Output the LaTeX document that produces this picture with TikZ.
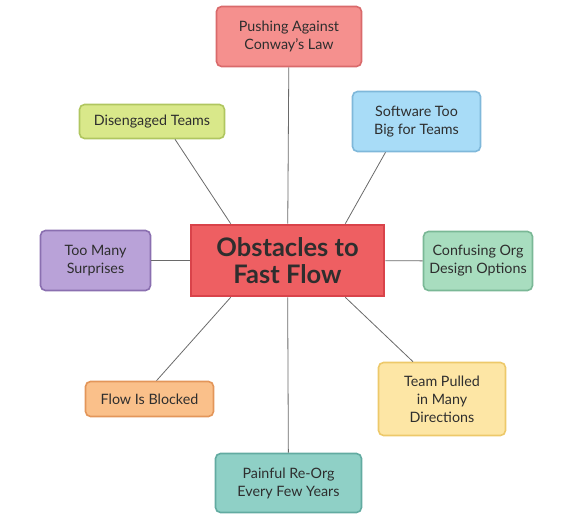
\documentclass[tikz,border=0pt]{standalone}
\usepackage{fontspec}
\setmainfont{Lato}

\definecolor{obstfill}{HTML}{EE5F62}
\definecolor{obstline}{HTML}{D9434A}
\definecolor{conwayfill}{HTML}{F5908E}
\definecolor{conwayline}{HTML}{D96A6B}
\definecolor{bigfill}{HTML}{A8DCF7}
\definecolor{bigline}{HTML}{7FB8DA}
\definecolor{disfill}{HTML}{D9E88A}
\definecolor{disline}{HTML}{B0C660}
\definecolor{surpfill}{HTML}{B9A2D8}
\definecolor{surpline}{HTML}{8A6FB0}
\definecolor{optfill}{HTML}{A8DDBF}
\definecolor{optline}{HTML}{7AB896}
\definecolor{blockfill}{HTML}{FAC08A}
\definecolor{blockline}{HTML}{E3965A}
\definecolor{pullfill}{HTML}{FDE6A5}
\definecolor{pullline}{HTML}{EDC96A}
\definecolor{reorgfill}{HTML}{8FD0C6}
\definecolor{reorgline}{HTML}{62ABA1}
\definecolor{textgray}{HTML}{2E2E2E}
\definecolor{linkgray}{HTML}{6A6A6A}

\begin{document}
\begin{tikzpicture}[
  x = 1pt, y = -1pt,
  obstacle/.style = {draw, line width = 1.6pt, rounded corners = 5pt,
    align = center, text = textgray, inner sep = 0pt,
    font = \fontsize{14.3}{18}\selectfont},
  headline/.style = {draw = obstline, fill = obstfill, line width = 2.6pt,
    align = center, text = textgray, inner sep = 0pt,
    minimum width = 193pt, minimum height = 71pt,
    font = \fontsize{25.5}{27.5}\selectfont\bfseries},
  link/.style = {draw = linkgray, line width = 0.8pt},
  ]

  \useasboundingbox (0, 0) rectangle (582, 525);

  \node at (287.5, 260.5)
  [headline, name = Obstacles] {Obstacles to\\Fast Flow};

  \node at (289, 36.5)
  [obstacle, draw = conwayline, fill = conwayfill, minimum width = 145pt,
   minimum height = 60pt, name = Conway] {Pushing Against\\Conway’s Law};

  \node at (416.5, 121.5)
  [obstacle, draw = bigline, fill = bigfill, minimum width = 128pt,
   minimum height = 60pt, name = TooBig] {Software Too\\Big for Teams};

  \node at (152, 121.5)
  [obstacle, draw = disline, fill = disfill, minimum width = 145pt,
   minimum height = 34pt, name = Disengaged] {Disengaged Teams};

  \node at (95.5, 260.5)
  [obstacle, draw = surpline, fill = surpfill, minimum width = 110pt,
   minimum height = 60pt, name = Surprises] {Too Many\\Surprises};

  \node at (478, 261)
  [obstacle, draw = optline, fill = optfill, minimum width = 109pt,
   minimum height = 59pt, name = Options] {Confusing Org\\Design Options};

  \node at (149.5, 399)
  [obstacle, draw = blockline, fill = blockfill, minimum width = 128pt,
   minimum height = 35pt, name = Blocked] {Flow Is Blocked};

  \node at (442, 399)
  [obstacle, draw = pullline, fill = pullfill, minimum width = 127pt,
   minimum height = 73pt, name = Pulled] {Team Pulled\\in Many\\Directions};

  \node at (288.5, 483)
  [obstacle, draw = reorgline, fill = reorgfill, minimum width = 146pt,
   minimum height = 59pt, name = ReOrg] {Painful Re-Org\\Every Few Years};

  \draw [link] (Conway) to (Obstacles);

  \draw [link] ([xshift = 23pt] Disengaged.south) to ([xshift = 41pt] Obstacles.north west);

  \draw [link] ([xshift = -31pt] TooBig.south) to ([xshift = -40pt] Obstacles.north east);

  \draw [link] (Surprises) to (Obstacles);

  \draw [link] (Options) to (Obstacles);

  \draw [link] ([xshift = 7pt] Blocked.north) to ([xshift = 41pt] Obstacles.south west);

  \draw [link] ([xshift = -29pt] Pulled.north) to ([xshift = -40pt] Obstacles.south east);

  \draw [link] (ReOrg) to (Obstacles);

\end{tikzpicture}
\end{document}
